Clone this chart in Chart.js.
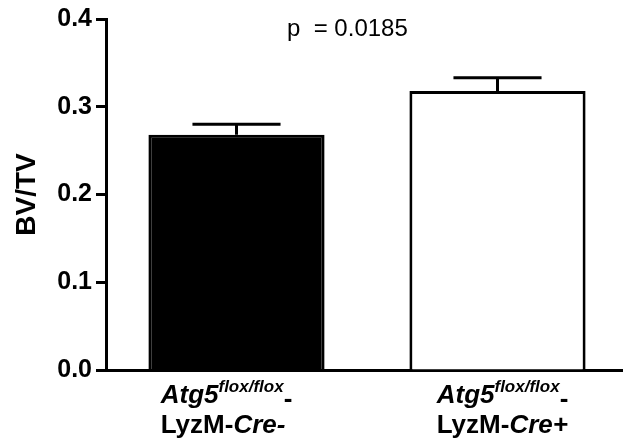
<!DOCTYPE html>
<html>
<head>
<meta charset="utf-8">
<script src="https://cdn.jsdelivr.net/npm/chart.js@4.4.1/dist/chart.umd.min.js"></script>
<style>
  html, body { margin: 0; padding: 0; background: #fff; overflow: hidden; }
  #wrap { width: 623px; height: 445px; overflow: hidden; }
</style>
</head>
<body>
<div id="wrap"><canvas id="bvtv" width="628" height="445"></canvas></div>
<script>
// данные с картинки
const geneNames = ["Atg5", "Atg5"];
const geneSupers = ["flox/flox", "flox/flox"];
const creLines = ["LyzM-", "LyzM-"];
const creNames = ["Cre", "Cre"];
const creSigns = ["-", "+"];
const bvtvMean = [0.268, 0.318];
const bvtvSem = [0.012, 0.015];
const yTicks = [0.0, 0.1, 0.2, 0.3, 0.4];
const barFill = ["#000000", "#ffffff"];
const pValueText = "p  = 0.0185";

const FONT = "'Liberation Sans', Arial, Helvetica, sans-serif";

// error bars (mean + SEM, only upward)
const errorBarPlugin = {
  id: "errorBars",
  afterDatasetsDraw(chart) {
    const ctx = chart.ctx;
    const meta = chart.getDatasetMeta(0);
    const yScale = chart.scales.y;
    ctx.save();
    ctx.strokeStyle = "#000";
    ctx.lineWidth = 3;
    meta.data.forEach((bar, i) => {
      const top = yScale.getPixelForValue(bvtvMean[i] + bvtvSem[i]);
      const half = bar.width * 0.25;
      ctx.beginPath();
      ctx.moveTo(bar.x, bar.y);
      ctx.lineTo(bar.x, top);
      ctx.moveTo(bar.x - half, top);
      ctx.lineTo(bar.x + half, top);
      ctx.stroke();
    });
    ctx.restore();
  }
};

// подписи категорий с курсивом и верхним индексом
const labelShift = [-10, 5];
const categoryLabelPlugin = {
  id: "categoryLabels",
  afterDraw(chart) {
    const ctx = chart.ctx;
    const xScale = chart.scales.x;
    const base = chart.chartArea.bottom;
    const big = "bold 26px " + FONT;
    const bigIt = "italic bold 26px " + FONT;
    const sup = "italic bold 17px " + FONT;
    ctx.save();
    ctx.fillStyle = "#000";
    ctx.textBaseline = "alphabetic";
    ctx.textAlign = "left";
    geneNames.forEach((name, i) => {
      const cx = xScale.getPixelForValue(i) + labelShift[i];
      ctx.font = bigIt; const w1 = ctx.measureText(name).width;
      ctx.font = sup; const w2 = ctx.measureText(geneSupers[i]).width;
      ctx.font = big; const w3 = ctx.measureText("-").width;
      const line1 = w1 + w2 + w3;
      ctx.font = big; const v1 = ctx.measureText(creLines[i]).width;
      ctx.font = bigIt; const v2 = ctx.measureText(creNames[i] + creSigns[i]).width;
      const line2 = v1 + v2;
      const left = cx - Math.max(line1, line2) / 2;
      const y1 = base + 33, y2 = base + 63;
      let x = left;
      ctx.font = bigIt; ctx.fillText(name, x, y1); x += w1;
      ctx.font = sup; ctx.fillText(geneSupers[i], x, y1 - 11); x += w2;
      ctx.font = big; ctx.fillText("-", x, y1 + 4);
      x = left;
      ctx.font = big; ctx.fillText(creLines[i], x, y2); x += v1;
      ctx.font = bigIt; ctx.fillText(creNames[i] + creSigns[i], x, y2);
    });
    // p-value
    ctx.font = "24px " + FONT;
    ctx.fillText(pValueText, 287, 36);
    ctx.restore();
  }
};

new Chart(document.getElementById("bvtv"), {
  type: "bar",
  data: {
    labels: geneNames.map((g, i) => g + geneSupers[i] + "-" + creLines[i] + creNames[i] + creSigns[i]),
    datasets: [{
      data: bvtvMean,
      backgroundColor: barFill,
      borderColor: "#000",
      borderWidth: 3,
      borderSkipped: "bottom",
      barPercentage: 0.675,
      categoryPercentage: 1.0
    }]
  },
  options: {
    responsive: false,
    animation: false,
    devicePixelRatio: 1,
    layout: { padding: { top: 18, right: 0, left: 0, bottom: 0 } },
    plugins: {
      legend: { display: false },
      tooltip: { enabled: false }
    },
    scales: {
      x: {
        grid: { display: false, drawTicks: false },
        border: { display: true, color: "#000", width: 3 },
        ticks: { display: false },
        afterFit(scale) { scale.height = 75; }
      },
      y: {
        min: 0,
        max: 0.4,
        afterBuildTicks(scale) { scale.ticks = yTicks.map(v => ({ value: v })); },
        grid: {
          drawOnChartArea: false,
          drawTicks: true,
          tickLength: 10,
          tickWidth: 3,
          tickColor: "#000",
          color: "#000"
        },
        border: { display: true, color: "#000", width: 3 },
        ticks: {
          color: "#000",
          padding: 4,
          font: { family: FONT, size: 25, weight: "bold" },
          callback: v => Number(v).toFixed(1)
        },
        title: {
          display: true,
          text: "BV/TV",
          color: "#000",
          font: { family: FONT, size: 28, weight: "bold" },
          padding: { top: 10, bottom: 0 }
        },
        afterFit(scale) { scale.width = 106; }
      }
    }
  },
  plugins: [errorBarPlugin, categoryLabelPlugin]
});
</script>
</body>
</html>
